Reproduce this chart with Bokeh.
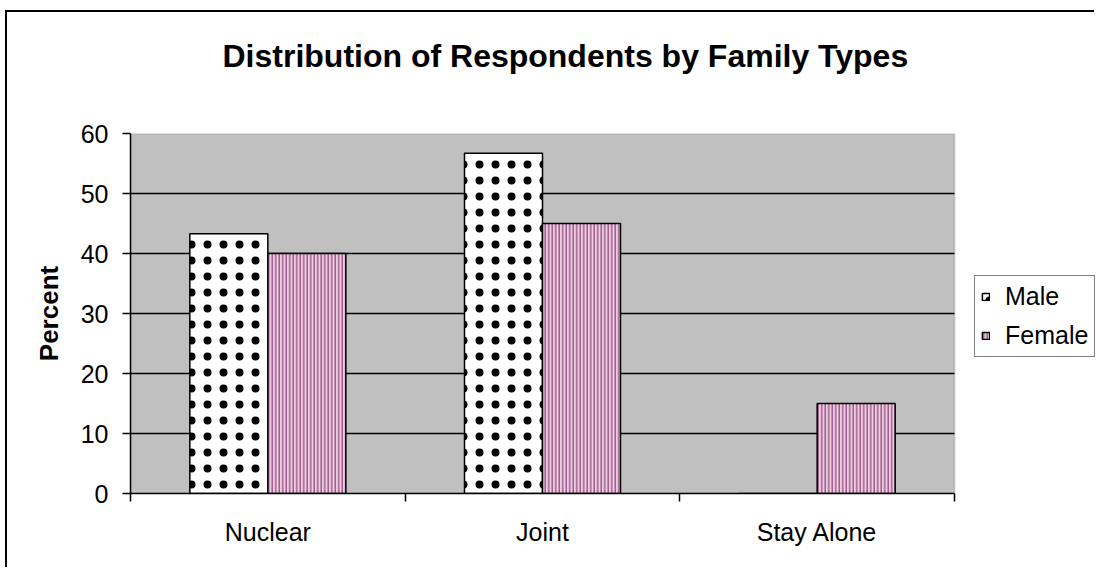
from bokeh.plotting import figure
from bokeh.models import (Range1d, FixedTicker, Legend, LegendItem, ColumnDataSource,
                          Title, BoxAnnotation)
from bokeh.transform import dodge
from bokeh.embed import file_html
from bokeh.resources import INLINE

# ---- data ----
categories = ["Nuclear", "Joint", "Stay Alone"]
male = [43.3, 56.7, 0.0]
female = [40.0, 45.0, 15.0]
y_ticks = [0, 10, 20, 30, 40, 50, 60]
series_names = ["Male", "Female"]
title_text = "Distribution of Respondents by Family Types"
y_label = "Percent"

FONT = "Liberation Sans"
BAR_W = 0.284
PLOT_AREA_W = 824      # px width of the grey plot area
FRAME_W = 966          # px width of the frame (plot area + legend zone)

n = len(categories)
xpos = [i + 0.5 for i in range(n)]
src = ColumnDataSource(dict(x=xpos, cat=categories, male=male, female=female))
grid_src = ColumnDataSource(dict(y=y_ticks[1:-1]))

p = figure(width=1089, height=557, output_backend="svg", toolbar_location=None,
           x_range=Range1d(0, n * FRAME_W / PLOT_AREA_W),
           y_range=Range1d(y_ticks[0], y_ticks[-1]),
           min_border_left=123, min_border_right=0, min_border_top=121,
           min_border_bottom=76)
p.styles = {"margin-left": "5px", "margin-top": "10px",
            "border-left": "2px solid black", "border-top": "2px solid black"}

p.background_fill_color = "white"
p.border_fill_color = "white"
p.outline_line_color = None

# title: empty default, spacer, then real title
p.title.text = ""
spacer = Title(text=" ", text_font=FONT, text_font_size="48px", standoff=0)
p.add_layout(spacer, "above")
title = Title(text=title_text, text_font=FONT, text_font_size="32px",
              text_font_style="bold", text_color="black", align="left", offset=92)
p.add_layout(title, "above")

# grey plot area
area = BoxAnnotation(left=0, right=n, bottom=y_ticks[0], top=y_ticks[-1],
                     fill_color="#C0C0C0", fill_alpha=1,
                     line_color="#808080", line_width=2, level="image")
p.add_layout(area)

# grid lines
p.xgrid.visible = False
p.ygrid.visible = False
p.segment(x0=0, x1=n, y0="y", y1="y", source=grid_src, line_color="black",
          line_width=1.5, level="underlay")

# bars
r_m = p.vbar(x=dodge("x", -BAR_W / 2), top="male", width=BAR_W, source=src,
             fill_color="white", line_color="black", line_width=1.5,
             hatch_pattern="dot", hatch_color="black", hatch_scale=16, hatch_weight=12)
r_f = p.vbar(x=dodge("x", BAR_W / 2), top="female", width=BAR_W, source=src,
             fill_color="#EACDE1", line_color="black", line_width=1.5,
             hatch_pattern="vertical_line", hatch_color="#9E5688", hatch_scale=3.5,
             hatch_weight=1.4)

# y axis
ya = p.yaxis[0]
ya.ticker = FixedTicker(ticks=y_ticks)
ya.axis_line_color = "black"
ya.axis_line_width = 1.5
ya.major_tick_in = 0
ya.major_tick_out = 8
ya.major_tick_line_width = 1.5
ya.minor_tick_line_color = None
ya.major_label_text_font = FONT
ya.major_label_text_font_size = "25px"
ya.major_label_text_color = "black"
ya.major_label_standoff = 14
ya.axis_label = y_label
ya.axis_label_text_font = FONT
ya.axis_label_text_font_size = "26px"
ya.axis_label_text_font_style = "bold"
ya.axis_label_text_color = "black"
ya.axis_label_standoff = 14

# x axis
xa = p.xaxis[0]
xa.bounds = (0, n)
xa.ticker = FixedTicker(ticks=xpos, minor_ticks=list(range(n + 1)))
xa.major_label_overrides = {x: c for x, c in zip(xpos, categories)}
xa.axis_line_color = "black"
xa.axis_line_width = 1.5
xa.major_tick_line_color = None
xa.major_tick_in = 0
xa.major_tick_out = 0
xa.minor_tick_in = 0
xa.minor_tick_out = 8
xa.minor_tick_line_color = "black"
xa.minor_tick_line_width = 1.5
xa.major_label_text_font = FONT
xa.major_label_text_font_size = "25px"
xa.major_label_text_color = "black"
xa.major_label_standoff = 16

# legend (inside the frame, right of the grey area)
legend = Legend(items=[LegendItem(label=series_names[0], renderers=[r_m]),
                       LegendItem(label=series_names[1], renderers=[r_f])],
                location=(844, 136))
legend.label_text_font = FONT
legend.label_text_font_size = "25px"
legend.label_text_color = "black"
legend.glyph_width = 9
legend.glyph_height = 9
legend.label_standoff = 15
legend.padding = 6
legend.spacing = 10
legend.margin = 0
legend.border_line_color = "black"
legend.border_line_width = 1.5
legend.background_fill_color = "white"
legend.background_fill_alpha = 1
p.add_layout(legend)

open("out.html", "w").write(file_html(p, INLINE))
